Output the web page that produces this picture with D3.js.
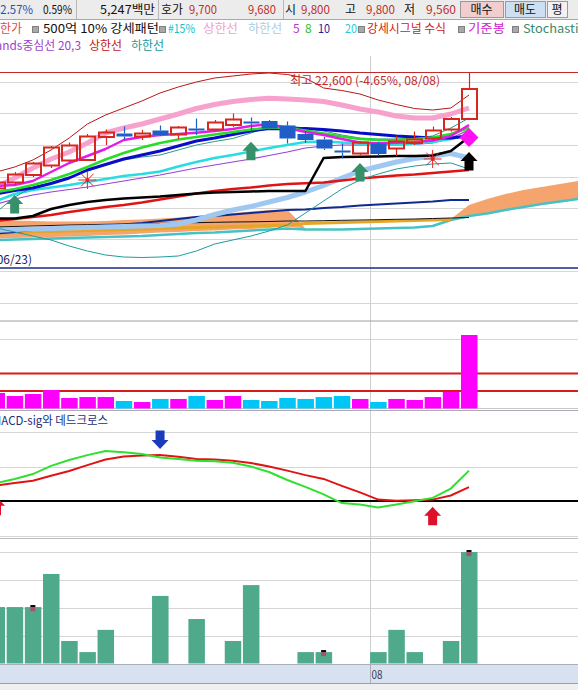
<!DOCTYPE html>
<html><head><meta charset="utf-8">
<script src="https://cdn.jsdelivr.net/npm/d3@7"></script>
<style>
body{margin:0;background:#fff;overflow:hidden}
svg{display:block}
text{font-family:"Noto Sans CJK KR","DejaVu Sans",sans-serif}
</style></head>
<body><svg id="c" width="578" height="690"></svg>
<script>
// ---------------- DATA ----------------
const dates = ["07/03","07/04","07/05","07/08","07/09","07/10","07/11","07/12","07/15","07/16","07/17","07/18","07/19","07/22","07/23","07/24","07/25","07/26","07/29","07/30","07/31","08/01","08/02","08/05","08/06","08/07","08/08"];
const open  = [7470,7590,7740,7930,8030,8040,8500,8570,8510,8630,8550,8670,8650,8740,8810,8820,8730,8560,8450,8230,8170,8370,8270,8380,8470,8650,8860];
const high  = [7640,7800,8000,8320,8390,8560,8650,8710,8640,8730,8720,8870,8840,8970,8890,8840,8810,8620,8500,8370,8420,8400,8520,8610,8710,8900,9800];
const low   = [7420,7540,7700,7880,8000,8020,8340,8440,8440,8520,8460,8540,8620,8700,8610,8640,8370,8380,8240,8070,8140,8140,8120,8340,8420,8610,8860];
const close = [7590,7750,7970,8290,8330,8510,8590,8510,8570,8540,8690,8640,8790,8850,8770,8670,8470,8440,8270,8190,8390,8160,8410,8450,8630,8860,9460];

const bbUpper = [7800,7900,8040,8240,8480,8760,8940,9080,9220,9380,9500,9600,9680,9720,9760,9780,9750,9680,9480,9430,9360,9240,9150,9070,9040,9080,9340];
const bbLower = [6680,6600,6520,6440,6320,6220,6140,6100,6090,6100,6120,6220,6360,6440,6520,6620,6740,6980,7220,7460,7640,7760,7860,7920,7960,7980,7860];
const bbCenter= [7160,7260,7340,7400,7450,7500,7560,7620,7680,7740,7810,7880,7940,8000,8060,8130,8200,8280,8320,8340,8340,8340,8340,8350,8380,8480,8640];
const envUpper= [7500,7680,7880,8060,8200,8380,8580,8680,8760,8860,8960,9070,9150,9210,9250,9274,9260,9240,9210,9140,9060,9000,8920,8880,8880,8960,9080];
const envLower= [6630,6650,6660,6670,6680,6690,6700,6710,6720,6730,6760,6840,6950,7040,7110,7200,7290,7400,7530,7680,7820,7910,8000,8070,8120,8170,8080];
const ma5  = [7520,7540,7620,7800,7980,8120,8260,8440,8500,8540,8560,8586,8620,8660,8720,8760,8680,8600,8540,8460,8390,8374,8386,8400,8430,8520,8740];
const ma8  = [7400,7460,7540,7640,7760,7900,8050,8180,8290,8380,8450,8500,8550,8600,8650,8690,8680,8630,8570,8510,8460,8440,8440,8460,8490,8560,8680];
const ma10 = [7360,7430,7480,7570,7680,7840,7950,8060,8140,8220,8320,8420,8480,8550,8620,8670,8660,8670,8650,8620,8580,8550,8520,8500,8480,8480,8520];
const ma20 = [7220,7360,7440,7490,7540,7600,7660,7720,7760,7810,7910,8000,8080,8140,8210,8280,8340,8400,8410,8390,8370,8360,8360,8370,8400,8460,8560];
const thinTeal = [7000,7300,7500,7580,7700,7820,7940,8040,8100,8140,8240,8340,8410,8470,8580,8700,8720,8680,8620,8540,8480,8460,8460,8480,8520,8680,8880];
const blackLine= [6870,6870,6920,7060,7140,7200,7240,7270,7290,7310,7340,7370,7390,7400,7410,7420,7420,7420,8080,8100,8106,8110,8120,8120,8130,8220,8500];
const redLine  = [6820,6860,6900,6940,7000,7050,7100,7140,7190,7250,7310,7370,7420,7460,7490,7530,7560,7574,7590,7630,7670,7700,7730,7750,7780,7810,7840];
const navyLine = [6570,6600,6640,6670,6700,6710,6730,6750,6780,6820,6860,6900,6920,6950,6980,7010,7040,7050,7080,7100,7130,7150,7170,7190,7210,7240,7240];
const spanTop  = [6840,6830,6820,6810,6810,6810,6820,6840,6850,6870,6890,6920,6950,6980,7010,7040,7050,6670,6660,6660,6670,6680,6690,6700,6740,6860,7140,7260,7360,7440,7500,7560,7620];
const spanBot  = [6470,6480,6490,6500,6510,6520,6540,6550,6570,6590,6600,6620,6630,6650,6660,6680,6710,6670,6660,6660,6670,6680,6690,6700,6740,6860,6930,6980,7050,7110,7170,7220,7270];
const tealThick= [6440,6450,6460,6470,6480,6490,6500,6510,6520,6540,6560,6580,6590,6610,6630,6650,6670,6650,6650,6650,6660,6670,6680,6690,6720,6840,6920,6970,7040,7100,7160,7210,7260];
const goldLine = [6580,6590,6600,6610,6620,6630,6640,6650,6660,6670,6680,6690,6700,6710,6720,6730,6740,6770,6780,6790,6800,6810,6820,6830,6840,6850];
const thinBlack= [6700,6710,6720,6730,6740,6746,6754,6760,6766,6774,6780,6786,6794,6800,6804,6810,6820,6820,6826,6834,6840,6846,6854,6860,6870,6880,6890];

const priceGrid = [9600,8980,8340,7700,7080,6460,5820,5180];
const highMark = 9800, lowMark = 5880;

const greenUp = [{i:1,p:7340},{i:14,p:8406},{i:20,p:7980}];
const blackUp = [{i:26,p:8200}];
const diamonds= [{i:26,p:8490}];
const stars   = [{i:5,p:7640},{i:24,p:8060}];

const histVals = [17.7,14.3,16.6,21.1,12,13.1,13.1,8.6,7.4,10.9,10.9,14.3,9.7,14.3,9.7,8.6,12,10.9,13.1,14.3,10.9,7.4,10.9,9.7,13.1,18.9,84];
const histUp   = [1,1,1,1,1,1,1,0,1,0,1,0,1,1,0,0,0,0,0,0,1,0,1,1,1,1,1];
const histGrid = [80], histLevels=[20,40];

const macd   = [52,64,78,102,119,133,145,141,136,126,122,117,115,111,100,84,61,41,19,-6,-10,-19,-10,-1,9,36,88];
const signal = [45,52,59,73,87,104,120,129,132,133,128,122,120,117,110,100,88,75,64,44,25,4,1,2,4,16,40];
const macdGrid = [200,100,-100];
const macdDown = [{i:9,v:151}];
const macdUp   = [{i:0,v:12},{i:24,v:-17}];

const volume = [203,203,203,322,81,41,121,0,0,243,0,160,0,81,282,0,0,41,41,0,0,41,121,41,0,81,401];
const volGrid = [100,200,300,400];
const volMarks = [2,18,26];

// ---------------- SCALES ----------------
const svg = d3.select("#c");
const x = d3.scaleLinear().domain([0,26]).range([-3.5,469]);
const y = d3.scaleLinear().domain([9800,4820]).range([72,321]);
const yh = d3.scaleLinear().domain([0,100]).range([408.5,321]);
const ym = d3.scaleLinear().domain([0,100]).range([501,466.5]);
const yv = d3.scaleLinear().domain([0,400]).range([663.5,552.3]);
const W = 578;

function txt(g,t,xx,yy,col,opt){
  opt=opt||{};
  const e=g.append("text").attr("x",xx).attr("y",yy).attr("font-size",opt.fs||12).attr("fill",col).attr("text-anchor",opt.anchor||"start").text(t);
  if(opt.len){e.attr("textLength",opt.len).attr("lengthAdjust","spacingAndGlyphs");}
  return e;
}

// ---------------- HEADER ----------------
const hd = svg.append("g");
hd.append("rect").attr("x",0).attr("y",0).attr("width",W).attr("height",19).attr("fill","#ececec");
hd.append("line").attr("x1",0).attr("x2",W).attr("y1",19.5).attr("y2",19.5).attr("stroke","#a8a8a8");
[76,158,283].forEach(v=>hd.append("line").attr("x1",v+0.5).attr("x2",v+0.5).attr("y1",0).attr("y2",19).attr("stroke","#b8b8b8"));
txt(hd,"82.57%",33,14,"#2a50b0",{anchor:"end",len:39});
txt(hd,"0.59%",43,14,"#111",{len:29});
txt(hd,"5,247백만",100,14,"#111",{len:55});
txt(hd,"호가",161,14,"#111",{len:22});
txt(hd,"9,700",189,14,"#c0302a",{len:28});
txt(hd,"9,680",248,14,"#c0302a",{len:28});
txt(hd,"시",285,14,"#111");
txt(hd,"9,800",301,14,"#c0302a",{len:29});
txt(hd,"고",345,14,"#111");
txt(hd,"9,800",366,14,"#c0302a",{len:29});
txt(hd,"저",404,14,"#111");
txt(hd,"9,560",426,14,"#c0302a",{len:30});
[[460,503,"#f1cdcd","매수"],[505,545,"#cddff3","매도"],[547,567,"#f2f2f2","평"]].forEach(b=>{
  hd.append("rect").attr("x",b[0]+0.5).attr("y",1.5).attr("width",b[1]-b[0]).attr("height",16).attr("fill",b[2]).attr("stroke","#9a9a9a");
  txt(hd,b[3],(b[0]+b[1])/2,14,"#111",{anchor:"middle"});
});

// legends
const lg = svg.append("g");
function sq(xx,yy){lg.append("rect").attr("x",xx+0.5).attr("y",yy+0.5).attr("width",6).attr("height",6).attr("fill","#a8a8a8").attr("stroke","#808080");}
txt(lg,"상한가",22,33,"#e04848",{anchor:"end",len:33});
sq(32,26); txt(lg,"500억 10% 강세패턴",43,33,"#111",{len:116});
sq(159,26); txt(lg,"#15%",168,33,"#20c0c8",{len:27});
txt(lg,"상한선",203,33,"#f0a0d0",{len:35}); txt(lg,"하한선",248,33,"#a8cce4",{len:34});
txt(lg,"5",293,33,"#b040c8"); txt(lg,"8",305,33,"#30c030"); txt(lg,"10",318,33,"#1c1ca0",{len:12}); txt(lg,"20",345,33,"#30c8d8",{len:12});
sq(358,26); txt(lg,"강세시그널 수식",367,33,"#d02020",{len:79});
sq(458,26); txt(lg,"기준봉",468,33,"#d020d0",{len:37});
sq(512,26); txt(lg,"Stochastic",523,33,"#3a8a6a",{len:62});
txt(lg,"Bollinger Bands중심선 20,3",81,50,"#a040d0",{anchor:"end",len:146});
txt(lg,"상한선",89,50,"#c02020",{len:33}); txt(lg,"하한선",131,50,"#209a9a",{len:33});

// ---------------- GRIDS ----------------
const gr = svg.append("g");
priceGrid.forEach(p=>gr.append("line").attr("x1",0).attr("x2",W).attr("y1",Math.round(y(p))+0.5).attr("y2",Math.round(y(p))+0.5).attr("stroke","#d6d6d6"));
histGrid.forEach(v=>gr.append("line").attr("x1",0).attr("x2",W).attr("y1",Math.round(yh(v))+0.5).attr("y2",Math.round(yh(v))+0.5).attr("stroke","#d6d6d6"));
macdGrid.forEach(v=>gr.append("line").attr("x1",0).attr("x2",W).attr("y1",Math.round(ym(v))+0.5).attr("y2",Math.round(ym(v))+0.5).attr("stroke","#d6d6d6"));
volGrid.forEach(v=>gr.append("line").attr("x1",0).attr("x2",W).attr("y1",Math.round(yv(v))+0.5).attr("y2",Math.round(yv(v))+0.5).attr("stroke","#d6d6d6"));
const mIdx = dates.findIndex((d,i)=>i>0 && d.slice(0,2)!==dates[i-1].slice(0,2));
const mx = Math.round(x(mIdx)-8.5)+0.5;
gr.append("line").attr("x1",mx).attr("x2",mx).attr("y1",56).attr("y2",683).attr("stroke","#cfcfcf");
[[321,"#a0a0a0"],[408.5,"#c8c8c8"],[410.5,"#b0a8b8"],[538.5,"#c0c0c0"]].forEach(s=>gr.append("line").attr("x1",0).attr("x2",W).attr("y1",s[0]).attr("y2",s[0]).attr("stroke",s[1]));

// ---------------- MAIN PANEL ----------------
svg.append("clipPath").attr("id","mc").append("rect").attr("x",0).attr("y",56).attr("width",W).attr("height",265);
const mp = svg.append("g").attr("clip-path","url(#mc)");
const ln = (arr,col,w)=>mp.append("path").datum(arr).attr("fill","none").attr("stroke",col).attr("stroke-width",w).attr("stroke-linejoin","round")
  .attr("d",d3.line().x((d,i)=>x(i)).y(d=>y(d)));
mp.append("path").datum(d3.range(spanTop.length)).attr("fill","#f4a46c")
  .attr("d",d3.area().x(i=>x(i)).y0(i=>y(spanBot[i])).y1(i=>y(spanTop[i])));
ln(tealThick,"#46c2c4",2.5);
ln(goldLine,"#e6a624",3);
ln(thinBlack,"#111",1);
ln(navyLine,"#102a94",2);
ln(envLower,"#9ec8f2",5);
ln(redLine,"#e01414",2.5);
ln(blackLine,"#000",2.5);
ln(bbLower,"#1f9c9c",1);
ln(bbUpper,"#b81818",1);
ln(envUpper,"#f6a2cc",5);
ln(bbCenter,"#9a42d6",1.2);
ln(ma20,"#26dede",2.5);
ln(thinTeal,"#2a9a86",1);
ln(ma10,"#0c0cc8",3);
ln(ma8,"#26dc26",2.5);
ln(ma5,"#e41ce4",2.5);

mp.append("line").attr("x1",0).attr("x2",W).attr("y1",y(highMark)+0.5).attr("y2",y(highMark)+0.5).attr("stroke","#c02a2a");
mp.append("line").attr("x1",0).attr("x2",W).attr("y1",y(lowMark)).attr("y2",y(lowMark)).attr("stroke","#1a2a8a").attr("stroke-width",1.5);
txt(mp,"최고 22,600 (-4.65%, 08/08)",290,y(highMark)+12.5,"#c42a2a",{len:150});
txt(mp,"최저 14,120 (+60.1%, 06/23)",32,y(lowMark)-4,"#22225a",{anchor:"end",len:150});

const cg = mp.append("g");
d3.range(open.length).forEach(i=>{
  const up = close[i]>=open[i];
  const col = up ? "#d6281e" : "#1e5ec6";
  const cx = Math.round(x(i))+0.5;
  const top = y(Math.max(open[i],close[i])), bot = y(Math.min(open[i],close[i]));
  cg.append("line").attr("x1",cx).attr("x2",cx).attr("y1",y(high[i])).attr("y2",top).attr("stroke",col).attr("stroke-width",1.2);
  cg.append("line").attr("x1",cx).attr("x2",cx).attr("y1",bot).attr("y2",y(low[i])).attr("stroke",col).attr("stroke-width",1.2);
  if(up){
    cg.append("rect").attr("x",cx-7.5).attr("y",top).attr("width",15).attr("height",Math.max(bot-top,2)).attr("fill","none").attr("stroke",col).attr("stroke-width",2);
  } else {
    cg.append("rect").attr("x",cx-8).attr("y",top).attr("width",16).attr("height",Math.max(bot-top,2)).attr("fill",col);
  }
});

function upArrow(g,cx,tip,col){
  g.append("path").attr("fill",col).attr("d",`M${cx},${tip} L${cx+8.5},${tip+9} L${cx+4.5},${tip+9} L${cx+4.5},${tip+18.5} L${cx-4.5},${tip+18.5} L${cx-4.5},${tip+9} L${cx-8.5},${tip+9} Z`);
}
function downArrow(g,cx,tip,col){
  g.append("path").attr("fill",col).attr("d",`M${cx},${tip} L${cx+8.5},${tip-9} L${cx+4.5},${tip-9} L${cx+4.5},${tip-18.5} L${cx-4.5},${tip-18.5} L${cx-4.5},${tip-9} L${cx-8.5},${tip-9} Z`);
}
greenUp.forEach(s=>upArrow(mp,x(s.i),y(s.p),"#36906a"));
blackUp.forEach(s=>upArrow(mp,x(s.i),y(s.p),"#000"));
diamonds.forEach(s=>{const cx=x(s.i),cy=y(s.p);mp.append("path").attr("fill","#ff10f0").attr("d",`M${cx},${cy-9.5} L${cx+9.5},${cy} L${cx},${cy+9.5} L${cx-9.5},${cy} Z`);});
stars.forEach(s=>{
  const cx=x(s.i),cy=y(s.p);
  for(let k=0;k<8;k++){const a=k*Math.PI/4;mp.append("line").attr("x1",cx).attr("y1",cy).attr("x2",cx+9*Math.cos(a)).attr("y2",cy+9*Math.sin(a)).attr("stroke","#e02424").attr("stroke-width",1);}
  mp.append("circle").attr("cx",cx).attr("cy",cy).attr("r",2).attr("fill","#e02424");
});

// ---------------- HISTOGRAM PANEL ----------------
const hp = svg.append("g");
histLevels.forEach(v=>hp.append("line").attr("x1",0).attr("x2",W).attr("y1",yh(v)).attr("y2",yh(v)).attr("stroke","#d81c1c").attr("stroke-width",2));
histVals.forEach((v,i)=>hp.append("rect").attr("x",x(i)-8).attr("y",yh(v)).attr("width",16.5).attr("height",yh(0)-yh(v)).attr("fill",histUp[i]?"#ff00ff":"#00c6f6"));

// ---------------- MACD PANEL ----------------
const mc = svg.append("g");
mc.append("line").attr("x1",0).attr("x2",W).attr("y1",ym(0)).attr("y2",ym(0)).attr("stroke","#000").attr("stroke-width",2);
const lm = d3.line().x((d,i)=>x(i)).y(d=>ym(d));
mc.append("path").datum(signal).attr("fill","none").attr("stroke","#e01414").attr("stroke-width",2).attr("d",lm);
mc.append("path").datum(macd).attr("fill","none").attr("stroke","#2fe02f").attr("stroke-width",2).attr("d",lm);
macdDown.forEach(s=>downArrow(mc,x(s.i),ym(s.v),"#1a3cbc"));
macdUp.forEach(s=>upArrow(mc,x(s.i),ym(s.v),"#dc1028"));
txt(mc,"MACD-sig와 데드크로스",-8,425,"#22307a",{len:116});

// ---------------- VOLUME PANEL ----------------
const vp = svg.append("g");
volume.forEach((v,i)=>{ if(v>0) vp.append("rect").attr("x",x(i)-8).attr("y",yv(v)).attr("width",16.5).attr("height",yv(0)-yv(v)).attr("fill","#4fa98b"); });
volMarks.forEach(i=>{
  const cx=x(i), t=yv(volume[i]);
  vp.append("rect").attr("x",cx-2.5).attr("y",t-2).attr("width",5).attr("height",2).attr("fill","#000");
  vp.append("rect").attr("x",cx-2.5).attr("y",t).attr("width",5).attr("height",4).attr("fill","#a8506e");
});

const ax = svg.append("g");
ax.append("rect").attr("x",0).attr("y",665).attr("width",W).attr("height",18).attr("fill","#d7e1ef");
ax.append("line").attr("x1",0).attr("x2",W).attr("y1",664.5).attr("y2",664.5).attr("stroke","#a8b0bc");
ax.append("rect").attr("x",0).attr("y",683).attr("width",W).attr("height",7).attr("fill","#f0f0f0");
ax.append("line").attr("x1",0).attr("x2",W).attr("y1",683.5).attr("y2",683.5).attr("stroke","#a0a0a0");
ax.append("line").attr("x1",mx).attr("x2",mx).attr("y1",665).attr("y2",683).attr("stroke","#a8b0bc");
txt(ax,dates[mIdx].slice(0,2),mx+1,679,"#3c3c50",{fs:11.5,len:11});
</script>
</body></html>
